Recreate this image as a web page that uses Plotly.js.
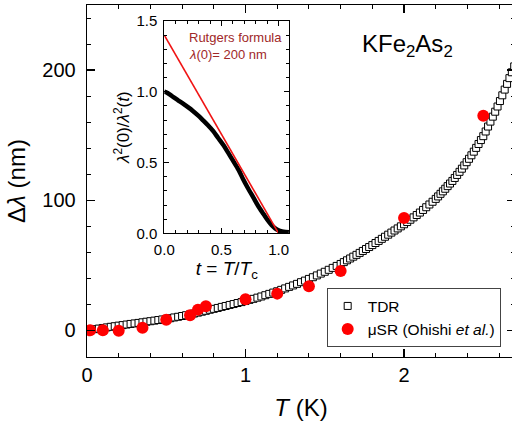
<!DOCTYPE html>
<html>
<head>
<meta charset="utf-8">
<script src="https://cdn.plot.ly/plotly-3.0.1.min.js"></script>
<style>
html,body{margin:0;padding:0;overflow:hidden;background:#fff;}
#chart{width:518px;height:427px;}
</style>
</head>
<body>
<div id="chart"></div>
<script>
// TDR data: temperature (K) and penetration depth change (nm)
const tdrT = [0.005,0.025,0.05,0.075,0.1,0.125,0.15,0.175,0.2,0.225,0.25,0.275,0.3,0.325,0.35,0.375,0.4,0.425,0.45,0.475,0.5,0.525,0.55,0.575,0.6,0.625,0.65,0.675,0.7,0.725,0.75,0.775,0.8,0.825,0.85,0.875,0.9,0.925,0.95,0.975,1.0,1.025,1.05,1.075,1.1,1.125,1.15,1.175,1.2,1.225,1.25,1.275,1.3,1.325,1.35,1.375,1.4,1.425,1.45,1.475,1.5,1.525,1.55,1.575,1.6,
1.62,1.64,1.66,1.68,1.70,1.72,1.74,1.76,1.78,1.80,1.82,1.84,1.86,1.88,1.90,1.92,1.94,1.96,1.98,2.00,2.02,2.04,2.06,2.08,2.10,2.12,2.14,2.16,2.18,2.20,
2.215,2.23,2.245,2.26,2.275,2.29,2.305,2.32,2.335,2.35,2.365,2.38,2.395,2.41,2.425,2.44,2.455,2.47,2.485,2.50,2.515,2.53,2.545,2.56,2.575,2.59,2.605,2.62,2.635,2.65,2.665,2.68,2.695,2.71];
const tdrDL = [0.1,0.45,0.9,1.35,1.8,2.25,2.7,3.15,3.6,4.0,4.45,4.9,5.3,5.7,6.15,6.6,7.0,7.45,7.9,8.35,8.8,9.3,9.9,10.4,11.0,11.6,12.3,12.9,13.6,14.3,15.0,15.8,16.5,17.2,18.0,18.7,19.5,20.2,21.0,21.7,22.5,23.4,24.2,25.1,26.0,27.0,28.0,29.0,30.0,31.1,32.2,33.4,34.5,35.7,37.0,38.2,39.5,40.8,42.2,43.6,45.0,46.5,48.0,49.5,51.0,
52.4,53.8,55.2,56.6,58.0,59.5,61.0,62.5,64.0,65.5,67.1,68.7,70.3,71.9,73.5,75.1,76.7,78.3,79.9,81.5,83.2,85.0,86.8,88.6,90.5,92.5,94.6,96.7,98.8,101.0,
102.9,104.9,106.8,108.8,110.8,112.8,114.8,117.1,119.4,121.8,124.2,126.7,129.2,131.8,134.5,137.3,140.2,143.2,146.2,149.2,152.8,156.6,160.4,164.2,168.0,172.0,176.2,180.6,185.0,189.4,193.8,198.3,202.8,207.4];

// muSR data (Ohishi et al.)
const musrT = [0.02,0.1,0.2,0.35,0.5,0.65,0.7,0.75,1.0,1.2,1.4,1.6,2.0,2.5];
const musrDL = [0,0,-0.3,2.0,8.2,11.5,15.9,18.5,23.8,28.2,33.8,45.6,86.4,164.9];

// Inset: superfluid density vs reduced temperature
const insetT = [0.0,0.02,0.05,0.08,0.12,0.17,0.21,0.25,0.30,0.34,0.38,0.43,0.47,0.52,0.56,0.60,0.65,0.69,0.73,0.78,0.82,0.87,0.90,0.94,0.97,1.0,1.03,1.06,1.09];
const insetRho = [1.0,0.995,0.98,0.962,0.94,0.913,0.89,0.865,0.83,0.798,0.765,0.72,0.675,0.62,0.568,0.515,0.448,0.382,0.322,0.252,0.195,0.134,0.098,0.057,0.035,0.021,0.014,0.01,0.008];

// Rutgers formula line
const rutgersT = [0, 1.0];
const rutgersRho = [1.4, 0];

const FONT = '"Liberation Sans", Arial, Helvetica, sans-serif';

const traces = [
  {x: tdrT, y: tdrDL, type: 'scatter', mode: 'markers', name: 'TDR',
   marker: {symbol: 'square', size: 7, color: '#ffffff', line: {color: '#000000', width: 1}},
   xaxis: 'x', yaxis: 'y'},
  {x: musrT, y: musrDL, type: 'scatter', mode: 'markers', name: 'μSR (Ohishi <i>et al.</i>)',
   marker: {symbol: 'circle', size: 12, color: 'rgb(255,0,0)'},
   xaxis: 'x', yaxis: 'y'},
  {x: insetT, y: insetRho, type: 'scatter', mode: 'lines', showlegend: false,
   line: {color: '#000000', width: 4.5, shape: 'spline', smoothing: 0.8}, xaxis: 'x2', yaxis: 'y2'},
  {x: rutgersT, y: rutgersRho, type: 'scatter', mode: 'lines', showlegend: false,
   line: {color: 'rgb(240,20,20)', width: 1.6}, xaxis: 'x2', yaxis: 'y2'}
];

const layout = {
  width: 518, height: 427,
  margin: {l: 87, r: 3, t: 5, b: 70},
  paper_bgcolor: '#ffffff', plot_bgcolor: '#ffffff',
  font: {family: FONT, color: '#000000'},
  showlegend: true,
  legend: {x: 0.56, y: 0.195, xanchor: 'left', yanchor: 'top',
           bordercolor: '#444', borderwidth: 1, bgcolor: '#ffffff',
           font: {size: 15.5, family: FONT}, tracegroupgap: 0},
  xaxis: {
    range: [0, 2.7], domain: [0, 1],
    tickvals: [0, 1, 2], ticktext: ['0', '1', '2'],
    ticks: 'inside', ticklen: 8, tickwidth: 1.2, tickcolor: '#000',
    minor: {dtick: 0.2, ticks: 'inside', ticklen: 4, tickwidth: 1, tickcolor: '#000'},
    showline: true, linecolor: '#000', linewidth: 1.3, mirror: 'ticks',
    showgrid: false, zeroline: false,
    tickfont: {size: 20, family: FONT},
    ticklabelstandoff: 0,
    title: {text: '<i>T</i> (K)', font: {size: 24, family: FONT}, standoff: 14}
  },
  yaxis: {
    range: [-20.5, 250], domain: [0, 1],
    tickvals: [0, 100, 200], ticktext: ['0', '100', '200'],
    ticks: 'inside', ticklen: 8, tickwidth: 1.2, tickcolor: '#000',
    minor: {dtick: 20, ticks: 'inside', ticklen: 4, tickwidth: 1, tickcolor: '#000'},
    showline: true, linecolor: '#000', linewidth: 1.3, mirror: 'ticks',
    showgrid: false, zeroline: false,
    tickfont: {size: 20, family: FONT},
    ticklabelstandoff: 6,
    title: {text: 'Δ<i>λ</i> (nm)', font: {size: 24, family: FONT}, standoff: 10}
  },
  xaxis2: {
    anchor: 'y2', domain: [0.1806, 0.4727], range: [0, 1.094],
    tickvals: [0, 0.5, 1.0], ticktext: ['0.0', '0.5', '1.0'],
    ticks: 'inside', ticklen: 5, tickwidth: 1, tickcolor: '#000',
    minor: {dtick: 0.1, ticks: 'inside', ticklen: 3, tickwidth: 1, tickcolor: '#000'},
    showline: true, linecolor: '#000', linewidth: 1, mirror: 'ticks',
    showgrid: false, zeroline: false,
    tickfont: {size: 15, family: FONT},
    ticklabelstandoff: 3,
    title: {text: '<i>t</i> = <i>T</i>/<i>T</i><sub>c</sub>', font: {size: 19, family: FONT}, standoff: 4}
  },
  yaxis2: {
    anchor: 'x2', domain: [0.3514, 0.9545], range: [0, 1.5],
    tickvals: [0, 0.5, 1.0, 1.5], ticktext: ['0.0', '0.5', '1.0', '1.5'],
    ticks: 'inside', ticklen: 5, tickwidth: 1, tickcolor: '#000',
    minor: {dtick: 0.1, ticks: 'inside', ticklen: 3, tickwidth: 1, tickcolor: '#000'},
    showline: true, linecolor: '#000', linewidth: 1, mirror: 'ticks',
    showgrid: false, zeroline: false,
    tickfont: {size: 15, family: FONT},
    ticklabelstandoff: 3,
    title: {text: '<i>λ</i><sup>2</sup>(0)/<i>λ</i><sup>2</sup>(<i>t</i>)', font: {size: 17, family: FONT}, standoff: 2}
  },
  annotations: [
    {text: 'KFe<sub>2</sub>As<sub>2</sub>', xref: 'paper', yref: 'paper',
     x: (360 - 87) / 428, y: (357 - 46) / 352, xanchor: 'left', yanchor: 'middle',
     showarrow: false, font: {size: 24, family: FONT, color: '#000'}},
    {text: 'Rutgers formula', xref: 'x2', yref: 'y2', x: 0.2, y: 1.382,
     xanchor: 'left', yanchor: 'middle', showarrow: false,
     font: {size: 13, family: FONT, color: 'rgb(160,40,40)'}},
    {text: '<i>λ</i>(0)= 200 nm', xref: 'x2', yref: 'y2', x: 0.2, y: 1.262,
     xanchor: 'left', yanchor: 'middle', showarrow: false,
     font: {size: 13, family: FONT, color: 'rgb(160,40,40)'}}
  ]
};

Plotly.newPlot('chart', traces, layout, {displayModeBar: false, staticPlot: true});
</script>
</body>
</html>
